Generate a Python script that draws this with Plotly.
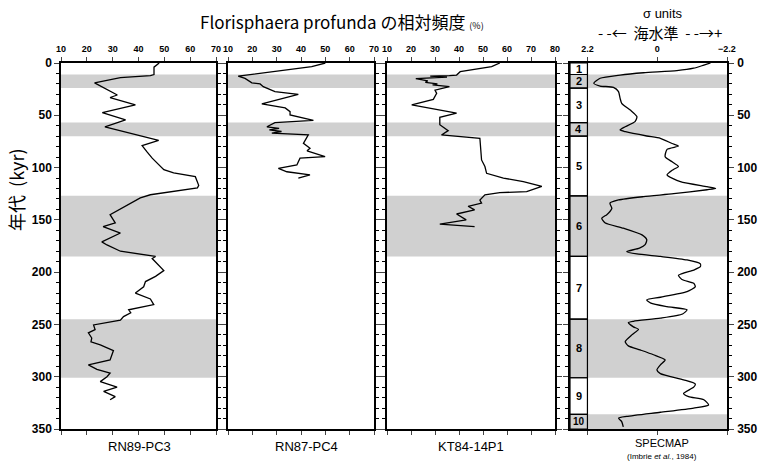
import plotly.graph_objects as go

# ---------------- data ----------------
rn89_age = [0,4,11,12,14,19,30.6,33,40,47.5,54.5,61,74,79,85,91,102,105,108.7,117,119.5,126,129,145,153,156.5,162.6,171,174,180,185,187,198.5,204,209,214,220,225.6,231,236,238.8,242.5,246,250.5,255,258,263,266.6,269.6,275,284,288.7,293,296.6,300,304.7,310,314,319,322]
rn89_val = [48,46,46,44.6,33,23,31.8,29,38.8,26,35,27,47.8,41.4,43.3,45.3,49.8,53.6,62,63.3,62.8,44.6,40.7,29,31,26.3,33,25.8,27.8,33,46.6,45.3,49.8,46.6,42.7,42,38.8,44.6,45.9,36.2,37,34.2,33,22.6,23.2,20.6,21.9,21.6,25.2,30.3,29,20.6,23.9,29,27.8,25.2,31.7,26.5,31,29]

rn87_age = [0,2,3.5,12.5,14.7,19,20,22.6,25,27.4,30,39,43,46.5,49.6,54.8,57,61,62.5,64,65.5,67,68.8,76.8,81.5,84,89.6,91,97.5,100.7,104,107,110]
rn87_val = [50,46.5,44.4,14.2,17,19.8,23.2,24.5,26.6,29.3,38.9,23.9,33.5,35.5,35.5,45.1,29.3,26,31,27,32,28,43,41,43.7,42.5,49.9,39.6,38.3,30.7,34.2,43.7,38.9]

kt84_age = [0,2,3.5,8.3,11.5,12,12.5,13.5,15,17,18.5,20,21,22.5,26,29,34.8,40,48,52,59,64.7,68.8,72,92.7,99,105.5,110,113.5,118,123,124,126,131,134,137,140.5,144.4,147,150,154,156.5]
kt84_val = [57,55,53.6,40.5,39,36,28,35,22,27,26,31,29,36,30,30.7,29.3,20.3,39,32,32,35.5,32.7,48.7,49.4,50.8,51.5,58.5,66.8,74.5,68.2,57,50.8,48.7,49.4,43.8,46.5,39,41,43,32,46.5]

spec_age = [0,2,5,7.3,9.3,11.5,14.6,19.4,22,23.3,27.4,33.8,38.5,45,51.3,56,61,64,65.7,69.8,72,77,79.4,82.6,89.6,94.5,99,102,107,113.5,118.3,120,121.2,125,127.8,131,134,139,142,145,148.5,152.7,158,164.4,169,173.6,177,180.4,182.6,185,188.3,192,194.8,198,203,207,210.6,214,218.6,224,226.6,229.7,233,236,240,244,247,248.3,252.3,254.7,260,266.5,270.5,274.4,279,284,288.7,293.5,297,303,307,310,316,319,322,327,330,334,338,339.6,343,348]
spec_val = [-1.68,-1.47,-1.15,-0.62,0.43,1.17,1.8,2.0,1.8,1.38,1.22,1.17,1.12,0.85,0.64,0.7,1.01,1.17,1.0,0.33,-0.1,-0.47,-0.67,-0.31,-0.25,-0.47,-0.67,-0.5,-0.31,-0.73,-1.57,-1.84,-1.57,-0.52,0.43,1.22,1.49,1.43,1.49,1.59,1.75,1.65,1.07,0.48,0.33,0.38,0.56,0.96,0.64,-0.1,-0.94,-1.36,-1.36,-1.15,-0.67,-0.78,-1.15,-1.2,-0.94,-0.1,0.33,0.2,-0.31,-0.94,-0.8,-0.1,0.75,0.91,0.75,0.59,0.8,1.01,0.91,0.54,0.12,-0.25,-0.1,0.01,-0.1,-0.83,-1.2,-1.15,-0.83,-0.99,-1.47,-1.62,-1.15,-0.1,0.96,1.22,1.12,1.07]

glacial_bands = [(11, 24), (57, 70), (127, 185), (245, 301), (336, 350)]
stage_bounds = [0, 11, 24, 57, 70, 127, 185, 245, 301, 336, 350]
stage_labels = ["1", "2", "3", "4", "5", "6", "7", "8", "9", "10"]
core_names = ["RN89-PC3", "RN87-PC4", "KT84-14P1"]
pct_ticks_a = [10, 20, 30, 40, 50, 60, 70]
pct_ticks_b = [10, 20, 30, 40, 50, 60, 70, 80]
sigma_ticks = [2.2, 0, -2.2]
sigma_ticklabels = ["2.2", "0", "\u22122.2"]
age_ticks = [0, 50, 100, 150, 200, 250, 300, 350]

# ---------------- layout ----------------
W, H = 758, 462
L_PX, R_PX, T_PX, B_PX = 61, 727, 63, 429
ML, MT = L_PX, T_PX
MR, MB = W - R_PX, H - B_PX
pw = R_PX - L_PX
ph = B_PX - T_PX

def px2dom(a, b):
    return [(a - L_PX) / pw, (b - L_PX) / pw]

def px(x):
    return (x - L_PX) / pw

def py(y):
    return (B_PX - y) / ph

domains = [px2dom(61, 216), px2dom(228, 374), px2dom(387, 555), px2dom(570, 727)]
xranges = [[10, 70], [10, 70], [10, 80], [2.75, -2.2]]
bands_per_panel = [4, 2, 3, 5]

fig = go.Figure()
series = [(rn89_val, rn89_age), (rn87_val, rn87_age), (kt84_val, kt84_age), (spec_val, spec_age)]
for i, (xv, yv) in enumerate(series):
    fig.add_trace(go.Scatter(
        x=xv, y=yv, mode="lines",
        line=dict(color="black", width=1.3, shape="spline" if i == 3 else "linear", smoothing=0.6),
        xaxis="x" if i == 0 else f"x{i+1}", yaxis="y" if i == 0 else f"y{i+1}",
        showlegend=False, hoverinfo="skip"))

tickfont_x = dict(family="Liberation Sans, Arial", size=9, color="black", weight="bold")
tickfont_y = dict(family="Liberation Sans, Arial", size=12, color="black", weight="bold")

lay = dict(width=W, height=H, margin=dict(l=ML, r=MR, t=MT, b=MB, autoexpand=False),
           plot_bgcolor="white", paper_bgcolor="white", showlegend=False)
for i in range(4):
    xs = "xaxis" if i == 0 else f"xaxis{i+1}"
    ys = "yaxis" if i == 0 else f"yaxis{i+1}"
    yid = "y" if i == 0 else f"y{i+1}"
    xid = "x" if i == 0 else f"x{i+1}"
    if i < 3:
        tv = pct_ticks_a if i < 2 else pct_ticks_b
        tt = [str(v) for v in tv]
    else:
        tv, tt = sigma_ticks, sigma_ticklabels
    lay[xs] = dict(domain=domains[i], range=xranges[i], side="top", anchor=yid,
                   tickvals=tv, ticktext=tt, ticks="outside", ticklen=4, tickwidth=1.2,
                   showline=True, linewidth=1.5, linecolor="black", mirror="ticks",
                   showgrid=False, zeroline=False, tickfont=tickfont_x, ticklabelstandoff=2)
    ydict = dict(range=[350, 0], anchor=xid, tickvals=age_ticks,
                 ticks="outside", ticklen=5, tickwidth=1.2,
                 minor=dict(dtick=10, tick0=0, ticks="outside", ticklen=3, tickwidth=1, tickcolor="black"),
                 showline=True, linewidth=1.5, linecolor="black", mirror="ticks",
                 showgrid=False, zeroline=False, tickfont=tickfont_y)
    if i == 0:
        ydict["showticklabels"] = True
    elif i == 3:
        ydict["side"] = "right"
        ydict["showticklabels"] = True
        ydict["ticklabelstandoff"] = 1
    else:
        ydict["showticklabels"] = False
    lay[ys] = ydict
fig.update_layout(**lay)

shapes = []
band_color = "#d0d0d0"
for i in range(4):
    xid = "x" if i == 0 else f"x{i+1}"
    yid = "y" if i == 0 else f"y{i+1}"
    for (a, b) in glacial_bands[:bands_per_panel[i]]:
        shapes.append(dict(type="rect", xref=f"{xid} domain", yref=yid, x0=0, x1=1, y0=a, y1=b,
                           fillcolor=band_color, line=dict(width=0), layer="below"))
# stage column
for k in range(len(stage_labels)):
    a, b = stage_bounds[k], stage_bounds[k + 1]
    shapes.append(dict(type="rect", xref="x4", yref="y4", x0=2.75, x1=2.2, y0=a, y1=b,
                       fillcolor="rgba(0,0,0,0)", line=dict(color="black", width=1.2), layer="above"))
fig.update_layout(shapes=shapes)

ann = []
for k, lab in enumerate(stage_labels):
    a, b = stage_bounds[k], stage_bounds[k + 1]
    ann.append(dict(xref="x4", yref="y4", x=2.475, y=(a + b) / 2, text=lab, showarrow=False,
                    font=dict(family="Liberation Sans, Arial", size=11 if k < 9 else 10, color="black", weight="bold")))

cjk = "Noto Sans CJK JP"
ann.append(dict(xref="paper", yref="paper", x=px(342), y=py(22),
                text="Florisphaera profunda の相対頻度 <span style='font-size:9px'>(%)</span>",
                showarrow=False, font=dict(family=cjk, size=17, color="black"), xanchor="center", yanchor="middle"))
ann.append(dict(xref="paper", yref="paper", x=px(663), y=py(13),
                text="σ units", showarrow=False, font=dict(family="Liberation Sans, Arial", size=13, color="black"),
                xanchor="center", yanchor="middle"))
ann.append(dict(xref="paper", yref="paper", x=px(660), y=py(33),
                text="- -←  海水準  - -→+", showarrow=False, font=dict(family=cjk, size=15, color="black"),
                xanchor="center", yanchor="middle"))
ann.append(dict(xref="paper", yref="paper", x=px(16), y=py(190),
                text="年代  (kyr)", textangle=-90, showarrow=False,
                font=dict(family=cjk, size=18, color="black"), xanchor="center", yanchor="middle"))
for name, cx in zip(core_names, [139, 306, 471]):
    ann.append(dict(xref="paper", yref="paper", x=px(cx), y=py(446),
                    text=name, showarrow=False,
                    font=dict(family="Liberation Sans, Arial", size=13, color="black"),
                    xanchor="center", yanchor="middle"))
ann.append(dict(xref="paper", yref="paper", x=px(662), y=py(443),
                text="SPECMAP", showarrow=False,
                font=dict(family="Liberation Sans, Arial", size=11, color="black"),
                xanchor="center", yanchor="middle"))
ann.append(dict(xref="paper", yref="paper", x=px(662), y=py(456),
                text="(Imbrie <i>et al.</i>, 1984)", showarrow=False,
                font=dict(family="Liberation Sans, Arial", size=8, color="black"),
                xanchor="center", yanchor="middle"))
fig.update_layout(annotations=ann)

fig.write_html("out.html", config={"displayModeBar": False},
               post_script="document.body.style.margin='0px';document.body.style.overflow='hidden';")
